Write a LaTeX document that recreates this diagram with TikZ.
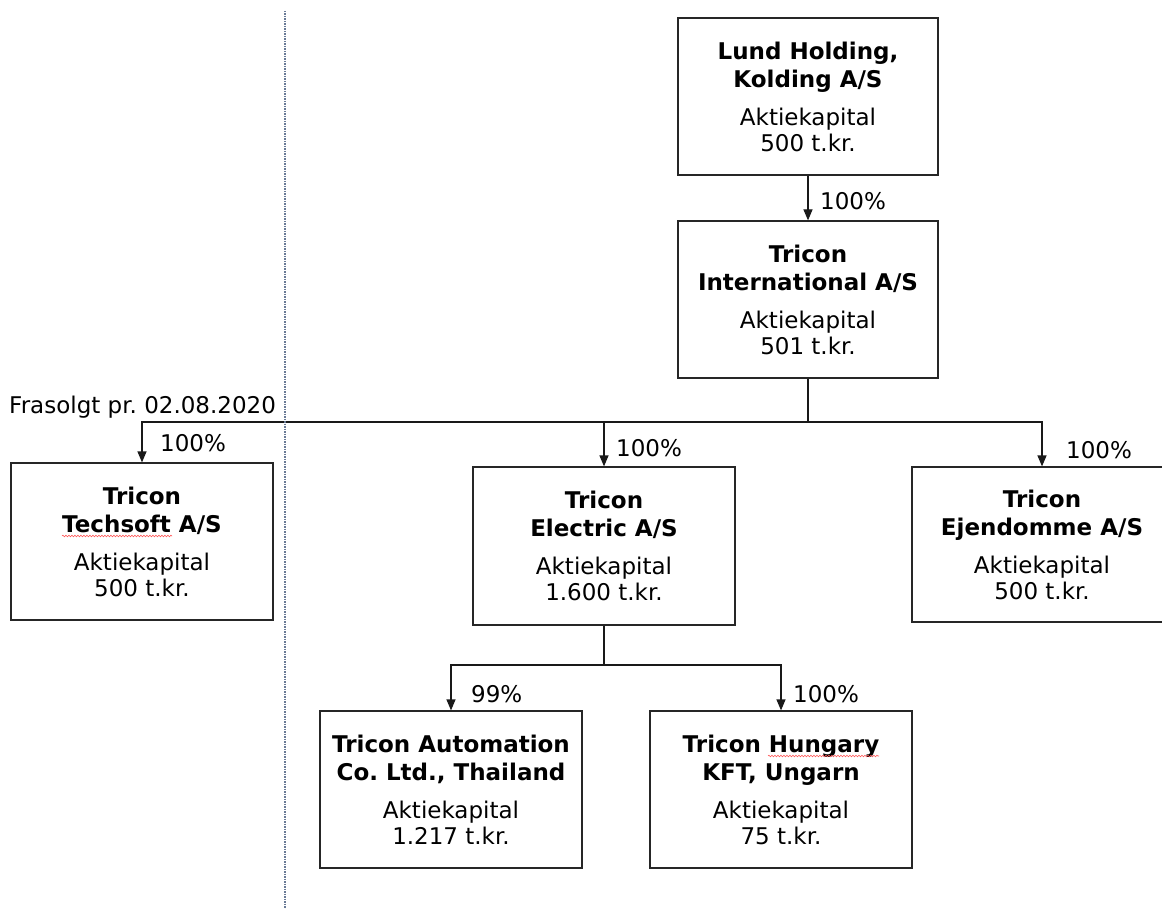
\documentclass[tikz,border=0pt]{standalone}
\usepackage{fontspec}
\setmainfont{DejaVu Sans}
\usetikzlibrary{arrows.meta,decorations.pathmorphing}
\frenchspacing
\newcommand\cbox[4]{\textbf{#1}\\[2pt]\textbf{#2}\\[12pt]#3\\#4}
\begin{document}
\begin{tikzpicture}[x=1pt,y=-1pt,
  box/.style={draw=black!85,line width=1.2pt,rectangle,minimum width=262pt,minimum height=157pt,inner sep=0pt,align=center,font=\fontsize{23}{26}\selectfont},
  link/.style={draw=black!90,line width=1.2pt},
  arr/.style={link,-{Triangle[length=11pt,width=9pt]}},
  pct/.style={anchor=west,inner sep=0pt,font=\fontsize{23}{26}\selectfont},
  squig/.style={draw=red!65,line width=0.6pt,decorate,decoration={snake,segment length=3pt,amplitude=0.8pt}},
  divider/.style={draw={rgb,255:red,105;green,122;blue,150},line width=1.3pt,dash pattern=on 1.5pt off 1pt}
]
\useasboundingbox (0,0) rectangle (1162,909);

\node[box,minimum width=260pt] (lund) at (808,96.5) {\cbox{Lund Holding,}{Kolding A/S}{Aktiekapital}{500 t.kr.}};
\node[box,minimum width=260pt] (intl) at (808,299.5) {\cbox{Tricon}{International A/S}{Aktiekapital}{501 t.kr.}};
\node[box] (tech) at (142,541.5) {\cbox{Tricon}{Techsoft A/S}{Aktiekapital}{500 t.kr.}};
\node[box,minimum height=158pt] (elec) at (604,546) {\cbox{Tricon}{Electric A/S}{Aktiekapital}{1.600 t.kr.}};
\node[box,minimum width=260pt,minimum height=155pt] (ejen) at (1042,544.5) {\cbox{Tricon}{Ejendomme A/S}{Aktiekapital}{500 t.kr.}};
\node[box] (auto) at (451,789.5) {\cbox{Tricon Automation}{Co. Ltd., Thailand}{Aktiekapital}{1.217 t.kr.}};
\node[box] (hung) at (781,789.5) {\cbox{Tricon Hungary}{KFT, Ungarn}{Aktiekapital}{75 t.kr.}};

\coordinate (bus1) at (808,422);
\coordinate (bus2) at (604,665);

\draw[arr] (lund.south) -- (intl.north);
\draw[link] (intl.south) -- (bus1);
\draw[arr] (bus1) -| (tech.north);
\draw[arr] (bus1) -| (elec.north);
\draw[arr] (bus1) -| (ejen.north);
\draw[link] (elec.south) -- (bus2);
\draw[arr] (bus2) -| (auto.north);
\draw[arr] (bus2) -| (hung.north);

\node[pct] (p1) at (820,201) {100\%};
\node[pct] (p2) at (160,443) {100\%};
\node[pct] (p3) at (616,448) {100\%};
\node[pct] (p4) at (1066,450) {100\%};
\node[pct] (p5) at (471,694) {99\%};
\node[pct] (p6) at (793,694) {100\%};
\node[pct] (sold) at (9,407) {Frasolgt pr. 02.08.2020};

\draw[divider] (285,11) -- (285,909);

\draw[squig] (62,536) -- (172,536);
\draw[squig] (768,756) -- (879,756);
\end{tikzpicture}
\end{document}
